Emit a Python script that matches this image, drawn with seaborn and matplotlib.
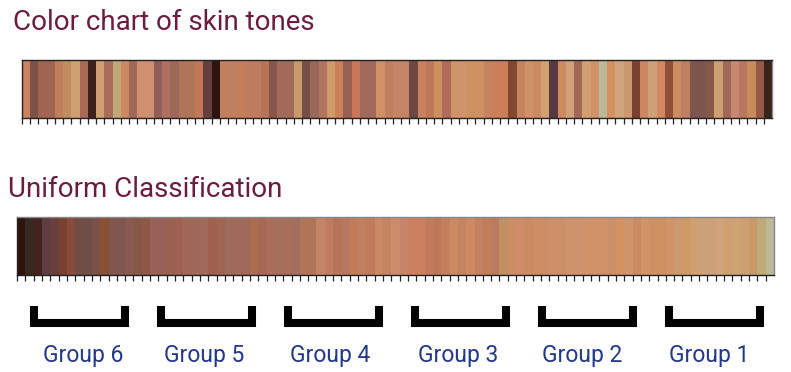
import numpy as np
import matplotlib
matplotlib.use("Agg")
import matplotlib.pyplot as plt
from matplotlib.colors import ListedColormap
import seaborn as sns

# ---------------- data ----------------
title_top = "Color chart of skin tones"
title_bottom = "Uniform Classification"
group_labels = ["Group 6", "Group 5", "Group 4", "Group 3", "Group 2", "Group 1"]

top_colors = [
    "#C98360", "#7D5248", "#A06550", "#A06550", "#C07E5A", "#C08C60", "#CFA070", "#A86A55",
    "#3E201C", "#D0A070", "#A86E5A", "#C0A878", "#CD8860", "#A06858", "#CE9070", "#CE9070",
    "#8E6058", "#B07060", "#9E6858", "#B07458", "#B07458", "#C07858", "#653F3F", "#2E140C",
    "#C08060", "#C08060", "#C47E58", "#C07C5E", "#C07C5E", "#B87458", "#885648", "#A36A5C",
    "#A36A5C", "#C89A68", "#7A4E48", "#9A6858", "#B07460", "#D09A68", "#CA8058", "#986050",
    "#C87858", "#A06A5C", "#A06A5C", "#D09068", "#C08060", "#C58466", "#C58466", "#6E4842",
    "#C8805E", "#BE7858", "#CE9060", "#B06C58", "#D09468", "#CF946C", "#CE9262", "#CE9262",
    "#C48462", "#CC7E5A", "#CC7E5A", "#844830", "#C48460", "#D09268", "#CC8A60", "#D0A070",
    "#583840", "#D08A62", "#D0A27A", "#A06858", "#D2A070", "#CF906A", "#BCB898", "#D4905E",
    "#D0A47C", "#CC9870", "#7A4030", "#CC8660", "#CCA078", "#D48860", "#905038", "#CC8C60",
    "#C08060", "#7F554F", "#7F554F", "#875848", "#CCA070", "#A06858", "#C88870", "#B87860",
    "#C88C5C", "#985848", "#382418",
]

bottom_colors = [
    "#2E140C", "#382A20", "#442220", "#5E3E42", "#683E3E", "#7A4030", "#8A4A3A", "#704E48",
    "#704E48", "#7A5048", "#8A5034", "#805650", "#805650", "#885A50", "#875848", "#8E5848",
    "#986058", "#986058", "#9A6050", "#A06050", "#A06858", "#A06858", "#A06A5A", "#A06050",
    "#A06452", "#9E6A5C", "#A06A5A", "#A06858", "#AC6C50", "#A86858", "#AC6E5C", "#A86E5C",
    "#A86E5C", "#A26E5E", "#B07458", "#B07458", "#C48466", "#C07C60", "#B87458", "#B87860",
    "#C47C58", "#C08060", "#C07C5C", "#CC8864", "#C48462", "#CC8C6C", "#C8846A", "#CC8060",
    "#CC8060", "#C07C5C", "#BC7858", "#C4805E", "#CC8A60", "#C48462", "#D08860", "#C48060",
    "#C47C58", "#B87C60", "#C09060", "#CC8C64", "#D08C68", "#CC8A60", "#CE8E64", "#CC8E64",
    "#CE9068", "#CE9068", "#CE926C", "#CE926C", "#D09068", "#D09068", "#D09068", "#CC9068",
    "#D4905E", "#CE946C", "#CC8A60", "#D09468", "#CE9262", "#CE9262", "#D09468", "#CC9870",
    "#CE9A68", "#D0A070", "#CCA27A", "#CCA078", "#D0A47C", "#D0A070", "#CFA272", "#CCA070",
    "#C89A68", "#C0A878", "#BCB898",
]

# ---------------- style ----------------
sns.set_style("white")
plt.rcParams["font.family"] = ["Roboto", "DejaVu Sans"]

W, H = 791, 372
fig = plt.figure(figsize=(W / 100, H / 100), dpi=100)

title_color = "#6C1C40"
label_color = "#22388A"

# layout (pixel centres of the group labels)
label_centres_px = [83.5, 204, 330.5, 458, 582.5, 709]


def strip(ax, colors):
    n = len(colors)
    data = np.arange(n)[None, :]
    sns.heatmap(data, cmap=ListedColormap(colors), vmin=-0.5, vmax=n - 0.5,
                cbar=False, ax=ax, xticklabels=False, yticklabels=False)
    ax.set_xticks(np.arange(n))
    ax.set_xticklabels([])
    ax.set_yticks([])
    ax.tick_params(axis="x", which="both", bottom=True, length=4, width=0.9,
                   color="#222222", direction="out")
    for s in ax.spines.values():
        s.set_visible(True)
        s.set_color("#222222")
        s.set_linewidth(1.0)
    ax.spines["right"].set_color("#888888")


def px_axes(x0, y0, x1, y1):
    return fig.add_axes([x0 / W, 1 - y1 / H, (x1 - x0) / W, (y1 - y0) / H])


ax_top = px_axes(22, 60, 772, 118)
strip(ax_top, top_colors)

ax_bot = px_axes(17, 217, 774, 275)
strip(ax_bot, bottom_colors)
ax_bot.spines["top"].set_color("#888888")

fig.text(13 / W, 1 - 30 / H, title_top, fontsize=20, color=title_color,
         ha="left", va="baseline")
fig.text(8 / W, 1 - 197 / H, title_bottom, fontsize=20, color=title_color,
         ha="left", va="baseline")

# brackets
ax_b = px_axes(16, 304, 778, 330)
ax_b.set_xlim(0, len(group_labels))
ax_b.set_ylim(330, 304)
ax_b.axis("off")
for i, lab in enumerate(group_labels):
    xa, xb = i + 0.142, i + 0.862
    ax_b.plot([xa, xa, xb, xb], [306, 322.5, 322.5, 306], color="black",
              lw=5.8, solid_joinstyle="miter", solid_capstyle="butt")
    fig.text(label_centres_px[i] / W, 1 - 362 / H, lab, fontsize=16.5,
             color=label_color, ha="center", va="baseline")

fig.savefig("out.png", dpi=100)
